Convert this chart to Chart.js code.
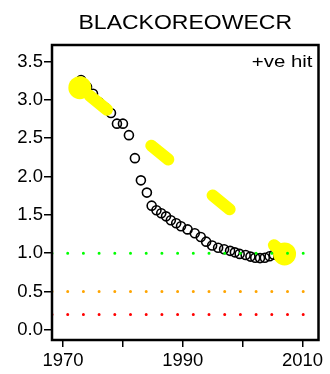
<!DOCTYPE html>
<html>
<head>
<meta charset="utf-8">
<script src="https://cdn.jsdelivr.net/npm/chart.js@4.4.1/dist/chart.umd.min.js"></script>
<style>
  html, body { margin: 0; padding: 0; background: #fff; }
  #chart { display: block; }
</style>
</head>
<body>
<canvas id="chart" width="330" height="374"></canvas>
<script>
// series
const years = [1973, 1974, 1975, 1976, 1977, 1978, 1979, 1980, 1981, 1982, 1983,
  1984.0, 1984.8, 1985.6, 1986.4, 1987.2, 1988.0, 1988.9, 1989.7, 1990.8, 1992.0,
  1993.0, 1993.9, 1994.9, 1995.9, 1996.9, 1997.9, 1998.7, 1999.5, 2000.5, 2001.3,
  2002.1, 2002.9, 2003.7, 2004.5, 2005.2];
const values = [3.26, 3.17, 3.08, 2.97, 2.90, 2.83, 2.69, 2.69, 2.54, 2.24, 1.95,
  1.79, 1.62, 1.56, 1.52, 1.48, 1.43, 1.39, 1.35, 1.31, 1.26,
  1.21, 1.15, 1.10, 1.07, 1.05, 1.03, 1.01, 0.99, 0.975, 0.955,
  0.94, 0.935, 0.94, 0.96, 0.98];

// yellow "hit" segment: start and end
const hitYears = [1972.8, 2007.0];
const hitValues = [3.16, 0.99];

// reference levels
const refLevels = [1.0, 0.5, 0.2];
const refColors = ["#00ff00", "#ffa500", "#ff0000"];

const xTicks = [1970, 1980, 1990, 2000, 2010];
const xLabels = ["1970", "", "1990", "", "2010"];
const yTicks = [0, 0.5, 1.0, 1.5, 2.0, 2.5, 3.0, 3.5];

const xMin = 1968.15, xMax = 2012.67;
const yMin = -0.134, yMax = 3.717;

const titleText = "BLACKOREOWECR";
const cornerText = "+ve hit";

function stretchText(ctx, text, x, y, font, align, sx) {
  ctx.save();
  ctx.font = font;
  ctx.fillStyle = "#000";
  ctx.textBaseline = "alphabetic";
  const w = ctx.measureText(text).width * sx;
  let left = x;
  if (align === "center") left = x - w / 2;
  if (align === "right") left = x - w;
  ctx.translate(left, y);
  ctx.scale(sx, 1);
  ctx.textAlign = "left";
  ctx.fillText(text, 0, 0);
  ctx.restore();
}

const frame = {
  id: "frame",
  afterDraw(chart) {
    const { ctx, chartArea: a } = chart;
    ctx.save();
    ctx.strokeStyle = "#000";
    ctx.lineWidth = 2.5;
    ctx.strokeRect(a.left, a.top, a.right - a.left, a.bottom - a.top);
    ctx.restore();
    stretchText(ctx, titleText, (a.left + a.right) / 2, 28.5, '19.5px "Liberation Sans"', "center", 1.18);
    stretchText(ctx, cornerText, a.right - 6, 67, '17px "Liberation Sans"', "right", 1.2);
  },
};

const datasets = [];
refLevels.forEach((lvl, i) => {
  datasets.push({
    type: "line",
    data: [{ x: xMin, y: lvl }, { x: xMax, y: lvl }],
    borderColor: refColors[i],
    borderWidth: 3,
    borderCapStyle: "round",
    borderDash: [0, 15.7],
    pointRadius: 0,
    order: 0,
  });
});

datasets.push({
  type: "line",
  data: hitYears.map((x, i) => ({ x: x, y: hitValues[i] })),
  borderColor: "#ffff00",
  borderWidth: 12,
  borderCapStyle: "round",
  borderDash: [22, 57],
  borderDashOffset: 66,
  pointRadius: 11.5,
  pointBorderWidth: 0,
  pointBackgroundColor: "#ffff00",
  order: 1,
});

datasets.push({
  type: "scatter",
  data: years.map((x, i) => ({ x: x, y: values[i] })),
  pointStyle: "circle",
  pointRadius: 4.5,
  borderWidth: 1.6,
  borderColor: "#000",
  backgroundColor: "rgba(0,0,0,0)",
  order: 2,
});

const tickFont = { family: "Liberation Sans", size: 18.5 };

new Chart(document.getElementById("chart"), {
  type: "scatter",
  data: { datasets: datasets },
  options: {
    responsive: false,
    animation: false,
    layout: { padding: { top: 45, right: 7, left: 0, bottom: 0 } },
    plugins: {
      legend: { display: false },
      tooltip: { enabled: false },
      title: { display: false },
    },
    scales: {
      x: {
        type: "linear",
        min: xMin,
        max: xMax,
        afterBuildTicks: (s) => { s.ticks = xTicks.map((v) => ({ value: v })); },
        afterFit: (s) => { s.height = 34; },
        border: { display: false },
        grid: { drawOnChartArea: false, drawTicks: true, tickLength: 7, color: "#000", lineWidth: 1.5 },
        ticks: {
          color: "#000",
          font: tickFont,
          padding: 3,
          maxRotation: 0,
          autoSkip: false,
          callback: (v) => xLabels[xTicks.indexOf(v)],
        },
      },
      y: {
        type: "linear",
        min: yMin,
        max: yMax,
        afterBuildTicks: (s) => { s.ticks = yTicks.map((v) => ({ value: v })); },
        afterFit: (s) => { s.width = 52; },
        border: { display: false },
        grid: { drawOnChartArea: false, drawTicks: true, tickLength: 8, color: "#000", lineWidth: 1.5 },
        ticks: {
          color: "#000",
          font: tickFont,
          padding: 1,
          autoSkip: false,
          callback: (v) => v.toFixed(1),
        },
      },
    },
  },
  plugins: [frame],
});
</script>
</body>
</html>
